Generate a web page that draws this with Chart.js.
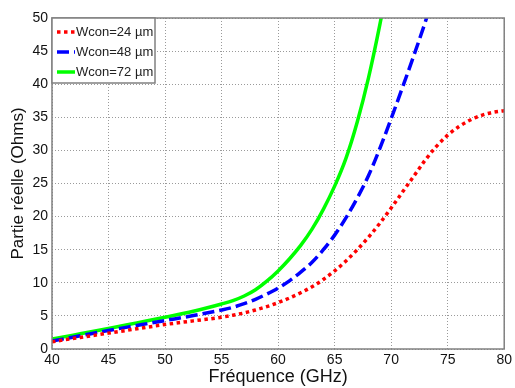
<!DOCTYPE html>
<html>
<head>
<meta charset="utf-8">
<script src="https://cdn.jsdelivr.net/npm/chart.js@4/dist/chart.umd.min.js"></script>
<style>
  html, body { margin: 0; padding: 0; background: #fff; }
  #wrap { width: 515px; height: 388px; }
</style>
</head>
<body>
<div id="wrap"><canvas id="chart" width="515" height="388"></canvas></div>
<script>
// Values
const seriesLabels = ['Wcon=24 µm', 'Wcon=48 µm', 'Wcon=72 µm'];

const freq24 = [40, 42.5, 45, 47.5, 50, 52.5, 55, 56, 57, 58, 59, 60, 61, 62, 63, 64, 65, 66, 67, 68, 69, 70, 71, 72, 73, 74, 75, 76, 77, 78, 79, 80];
const re24   = [1.1, 1.75, 2.4, 3.05, 3.7, 4.25, 4.8, 5.1, 5.45, 5.9, 6.4, 7.0, 7.7, 8.5, 9.4, 10.5, 11.8, 13.3, 15.0, 16.9, 19.0, 21.3, 23.7, 26.1, 28.5, 30.6, 32.3, 33.6, 34.6, 35.3, 35.75, 36.0];

const freq48 = [40, 42.5, 45, 47.5, 50, 52.5, 55, 56, 57, 58, 59, 60, 61, 62, 63, 64, 65, 66, 67, 68, 69, 70, 71, 72, 73, 73.5];
const re48   = [1.2, 2.0, 2.8, 3.55, 4.3, 5.05, 5.9, 6.3, 6.85, 7.5, 8.3, 9.2, 10.3, 11.6, 13.1, 15.0, 17.2, 19.8, 22.8, 26.2, 30.3, 34.8, 39.5, 44.3, 49.3, 52];

const freq72 = [40, 42.5, 45, 47.5, 50, 52.5, 55, 56, 57, 58, 59, 60, 61, 62, 63, 64, 65, 66, 67, 68, 69, 69.5];
const re72   = [1.5, 2.3, 3.1, 3.95, 4.8, 5.7, 6.8, 7.3, 8.0, 8.95, 10.25, 11.8, 13.6, 15.65, 18.1, 21.1, 24.6, 28.8, 34.3, 41.0, 49.0, 53.5];

const xTicks = [40, 45, 50, 55, 60, 65, 70, 75, 80];
const yTicks = [0, 5, 10, 15, 20, 25, 30, 35, 40, 45, 50];

const xTitle = 'Fréquence (GHz)';
const yTitle = 'Partie réelle (Ohms)';

function pts(xs, ys) {
  return xs.map((x, i) => ({ x: x, y: ys[i] }));
}

// box around the plot area, like the original frame
const frame = {
  id: 'frame',
  afterDatasetsDraw(chart) {
    const a = chart.chartArea;
    const ctx = chart.ctx;
    ctx.save();
    ctx.strokeStyle = '#808080';
    ctx.lineWidth = 1.5;
    ctx.strokeRect(a.left, a.top, a.right - a.left, a.bottom - a.top);
    ctx.restore();
  }
};

// legend box in the upper left corner of the plot
const boxLegend = {
  id: 'boxLegend',
  afterDraw(chart) {
    const a = chart.chartArea;
    const ctx = chart.ctx;
    const x0 = a.left, y0 = a.top, w = 103, h = 65;
    ctx.save();
    ctx.fillStyle = '#fff';
    ctx.fillRect(x0, y0, w, h);
    ctx.strokeStyle = '#808080';
    ctx.lineWidth = 1.5;
    ctx.strokeRect(x0, y0, w, h);
    ctx.font = '13px "Liberation Sans", Arial, sans-serif';
    ctx.textBaseline = 'middle';
    chart.data.datasets.forEach((ds, i) => {
      const y = y0 + 14 + i * 20;
      ctx.beginPath();
      ctx.strokeStyle = ds.borderColor;
      ctx.lineWidth = ds.borderWidth;
      ctx.setLineDash(ds.borderDash || []);
      ctx.moveTo(x0 + 5, y);
      ctx.lineTo(x0 + 23, y);
      ctx.stroke();
      ctx.setLineDash([]);
      ctx.fillStyle = '#222';
      ctx.fillText(ds.label, x0 + 24, y);
    });
    ctx.restore();
  }
};

const tickFont = { family: '"Liberation Sans", Arial, sans-serif', size: 14 };

new Chart(document.getElementById('chart'), {
  type: 'line',
  data: {
    datasets: [
      {
        label: seriesLabels[0],
        data: pts(freq24, re24),
        borderColor: '#ff0000',
        borderWidth: 3.5,
        borderDash: [3.5, 3.5]
      },
      {
        label: seriesLabels[1],
        data: pts(freq48, re48),
        borderColor: '#0000ff',
        borderWidth: 3.5,
        borderDash: [12, 5]
      },
      {
        label: seriesLabels[2],
        data: pts(freq72, re72),
        borderColor: '#00ff00',
        borderWidth: 3.5
      }
    ]
  },
  options: {
    responsive: false,
    animation: false,
    layout: { padding: { top: 18, right: 9, bottom: 0, left: 0 } },
    elements: {
      point: { radius: 0 },
      line: { cubicInterpolationMode: 'monotone', borderCapStyle: 'butt', fill: false }
    },
    scales: {
      x: {
        type: 'linear',
        min: 40,
        max: 80,
        afterBuildTicks: (axis) => { axis.ticks = xTicks.map(v => ({ value: v })); },
        afterFit: (axis) => { axis.height = 39; },
        ticks: { font: tickFont, color: '#111', padding: 3, maxRotation: 0 },
        grid: { color: '#9a9a9a', drawTicks: false },
        border: { display: false, dash: [1, 2] },
        title: {
          display: true, text: xTitle, color: '#111',
          font: { family: '"Liberation Sans", Arial, sans-serif', size: 18 },
          padding: { top: 0, bottom: 0 }
        }
      },
      y: {
        min: 0,
        max: 50,
        afterBuildTicks: (axis) => { axis.ticks = yTicks.map(v => ({ value: v })); },
        afterFit: (axis) => { axis.width = 52; },
        ticks: { font: tickFont, color: '#111', padding: 4 },
        grid: { color: '#9a9a9a', drawTicks: false },
        border: { display: false, dash: [1, 2] },
        title: {
          display: true, text: yTitle, color: '#111',
          font: { family: '"Liberation Sans", Arial, sans-serif', size: 17 },
          padding: { top: 8, bottom: 0 }
        }
      }
    },
    plugins: {
      legend: { display: false },
      tooltip: { enabled: false }
    }
  },
  plugins: [frame, boxLegend]
});
</script>
</body>
</html>
